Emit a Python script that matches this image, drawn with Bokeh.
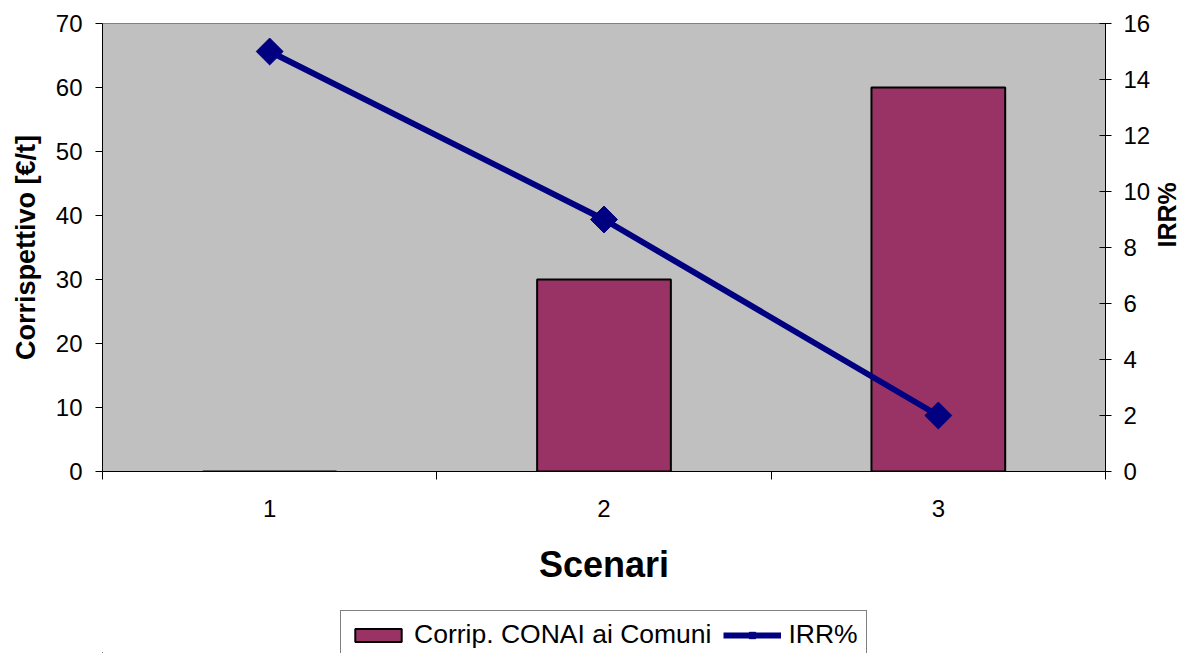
import math
from bokeh.plotting import figure
from bokeh.layouts import column
from bokeh.models import (Range1d, LinearAxis, FixedTicker, ColumnDataSource, Legend,
                          LegendItem)
from bokeh.embed import file_html
from bokeh.resources import INLINE

# ---- data ----
scenari = ["1", "2", "3"]
corrispettivo = [0, 30, 60]      # Corrip. CONAI ai Comuni [€/t]
irr = [15, 9, 2]                 # IRR%
left_ticks = [0, 10, 20, 30, 40, 50, 60, 70]
right_ticks = [0, 2, 4, 6, 8, 10, 12, 14, 16]
series_names = ["Corrip. CONAI ai Comuni", "IRR%"]

FONT = "Liberation Sans"
BAR_COLOR = "#993366"
LINE_COLOR = "#000080"
x = [i + 1 for i in range(len(scenari))]
src = ColumnDataSource(dict(x=x, corr=corrispettivo, irr=irr))

p = figure(width=1198, height=606, output_backend="svg", toolbar_location=None,
           x_range=Range1d(0.5, len(scenari) + 0.5), y_range=Range1d(0, 70),
           min_border_left=102, min_border_right=92, min_border_top=23, min_border_bottom=135,
           background_fill_color="#C0C0C0", border_fill_color="white")
p.extra_y_ranges = {"irr": Range1d(0, 16)}
p.outline_line_color = "#808080"
p.outline_line_width = 1
p.xgrid.visible = False
p.ygrid.visible = False


def draw(fig, source):
    b = fig.vbar(x="x", top="corr", width=0.4, source=source, fill_color=BAR_COLOR,
                 line_color="black", line_width=2)
    l = fig.line(x="x", y="irr", source=source, y_range_name="irr", line_color=LINE_COLOR,
                 line_width=6)
    m = fig.scatter(x="x", y="irr", source=source, y_range_name="irr", marker="square",
                    size=19, angle=math.pi / 4, fill_color=LINE_COLOR, line_color=LINE_COLOR)
    return b, l, m


draw(p, src)

# x axis
xa = p.xaxis[0]
xa.ticker = FixedTicker(ticks=x, minor_ticks=[v - 0.5 for v in x] + [x[-1] + 0.5])
xa.major_label_overrides = {v: s for v, s in zip(x, scenari)}
xa.major_tick_out = 0
xa.major_tick_in = 0
xa.minor_tick_out = 8
xa.minor_tick_in = 0
xa.axis_line_color = "black"
xa.major_label_standoff = 20
xa.major_label_text_font = FONT
xa.major_label_text_font_size = "24px"
xa.major_label_text_color = "black"
xa.axis_label = "Scenari"
xa.axis_label_text_font = FONT
xa.axis_label_text_font_size = "36px"
xa.axis_label_text_font_style = "bold"
xa.axis_label_text_color = "black"
xa.axis_label_standoff = 24

# left axis
ya = p.yaxis[0]
ya.ticker = FixedTicker(ticks=left_ticks, minor_ticks=[])
ya.major_tick_out = 7
ya.major_tick_in = 0
ya.minor_tick_out = 0
ya.major_label_standoff = 13
ya.major_label_text_font = FONT
ya.major_label_text_font_size = "24px"
ya.major_label_text_color = "black"
ya.axis_line_color = "black"
ya.axis_label = "Corrispettivo [€/t]"
ya.axis_label_text_font = FONT
ya.axis_label_text_font_size = "27px"
ya.axis_label_text_font_style = "bold"
ya.axis_label_text_color = "black"
ya.axis_label_standoff = 12

# right axis
ra = LinearAxis(y_range_name="irr", ticker=FixedTicker(ticks=right_ticks, minor_ticks=[]))
ra.major_tick_out = 6
ra.major_tick_in = 6
ra.minor_tick_out = 0
ra.major_label_standoff = 12
ra.major_label_text_font = FONT
ra.major_label_text_font_size = "24px"
ra.major_label_text_color = "black"
ra.axis_line_color = "black"
ra.axis_label = "IRR%"
ra.axis_label_text_font = FONT
ra.axis_label_text_font_size = "25px"
ra.axis_label_text_font_style = "bold"
ra.axis_label_text_color = "black"
ra.axis_label_standoff = 14
ra.axis_label_orientation = math.pi / 2
p.add_layout(ra, "right")

# ---- legend strip below the chart (its glyphs sit outside its visible range) ----
leg = figure(width=1198, height=47, output_backend="svg", toolbar_location=None,
             x_axis_type=None, y_axis_type=None, x_range=Range1d(100, 101),
             y_range=Range1d(100, 101), min_border=0, outline_line_color=None)
leg.extra_y_ranges = {"irr": Range1d(100, 101)}
leg.xgrid.visible = False
leg.ygrid.visible = False
lb, ll, lm = draw(leg, src)

legend = Legend(items=[LegendItem(label=series_names[0], renderers=[lb], index=0),
                       LegendItem(label=series_names[1], renderers=[ll, lm], index=0)],
                orientation="horizontal", location=(238, -6),
                label_text_font=FONT, label_text_font_size="26.5px", label_text_color="black",
                glyph_width=58, glyph_height=16, label_standoff=7, spacing=12, padding=8,
                border_line_color="black", border_line_width=1, background_fill_alpha=1,
                margin=0)
leg.add_layout(legend)

layout = column(p, leg, spacing=0)
open("out.html", "w").write(file_html(layout, INLINE))
